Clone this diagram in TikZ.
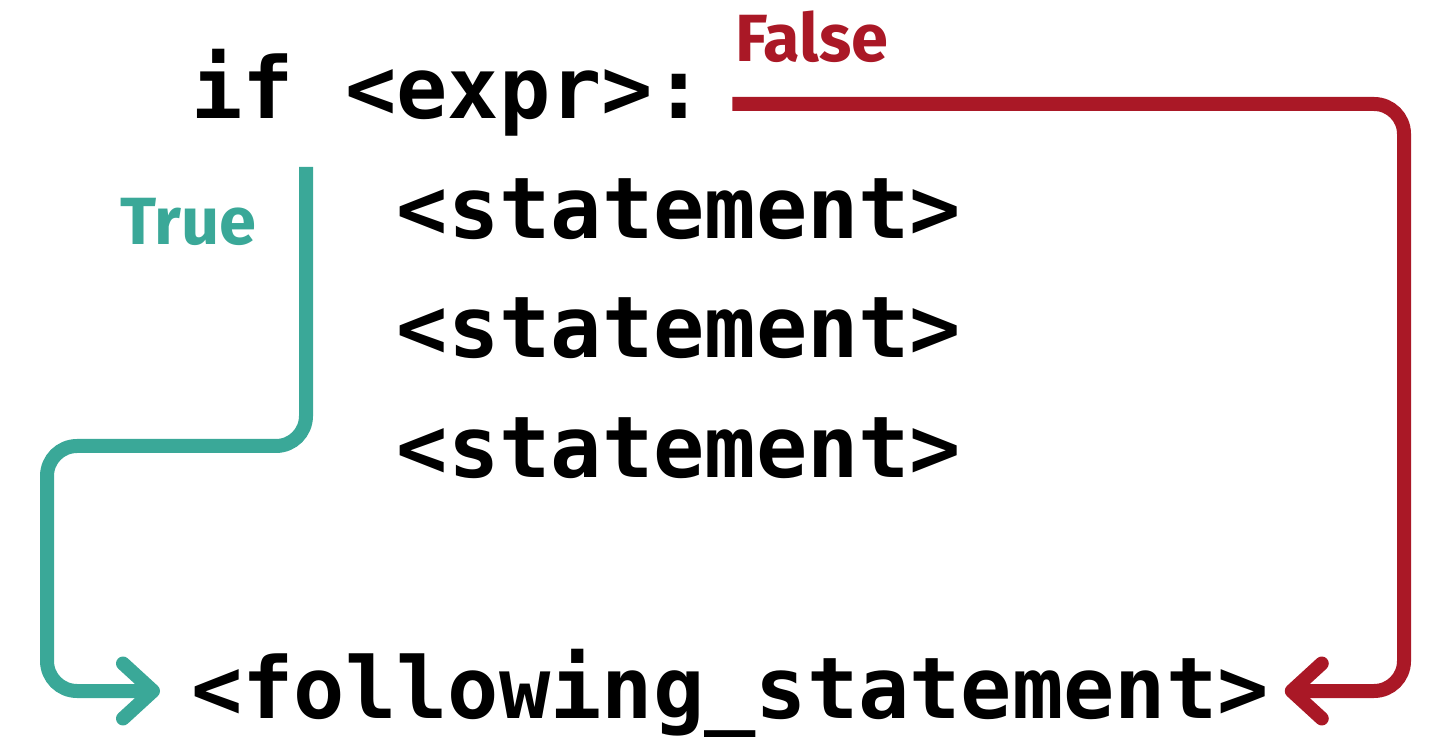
\documentclass[tikz,border=0pt]{standalone}
\usepackage{fontspec}
\newfontfamily\codefont{DejaVu Sans Mono}
\newfontfamily\lblfont{Fira Sans}
\usetikzlibrary{arrows.meta,calc}
\definecolor{truecol}{HTML}{3AA898}
\definecolor{falsecol}{HTML}{AA1826}

\begin{document}
\begin{tikzpicture}[
    code/.style={anchor=base west, inner sep=0pt, font=\codefont\bfseries\fontsize{48.5}{48.5}\selectfont},
    lbl/.style={anchor=base west, inner sep=0pt, font=\lblfont\bfseries\fontsize{38}{38}\selectfont},
    flow/.style={line width=0.28cm, rounded corners=0.6cm, -{Straight Barb[round, length=0.6cm, width=1.1cm]}}
]
    \useasboundingbox (0,0) rectangle (29.04,14.72);

    % Code lines
    \node[code] (cond)  at (3.82,12.34) {if <expr>:};
    \node[code] (stmtA) at (7.93,9.94) {<statement>};
    \node[code] (stmtB) at (7.93,7.56) {<statement>};
    \node[code] (stmtC) at (7.93,5.16) {<statement>};
    \node[code] (next)  at (3.82,0.36) {<following\_statement>};

    % Branch labels
    \node[lbl, text=truecol]  (truelbl)  at (2.4,9.82)  {True};
    \node[lbl, text=falsecol] (falselbl) at (14.7,13.48) {False};

    % True branch: down through the body
    \coordinate (tstart) at (6.12,11.38);
    \coordinate (tjog) at (0.94,5.8);
    \draw[flow, truecol] (tstart) |- (tjog) |- ($(next.base west)+(-0.62,0.54)$);

    % False branch: skip the body
    \coordinate (fstart) at ($(cond.base east)+(0.55,0.3)$);
    \coordinate (fturn) at (28.08,12.64);
    \draw[flow, falsecol] (fstart) -- (fturn) |- ($(next.base east)+(0.31,0.54)$);
\end{tikzpicture}
\end{document}
